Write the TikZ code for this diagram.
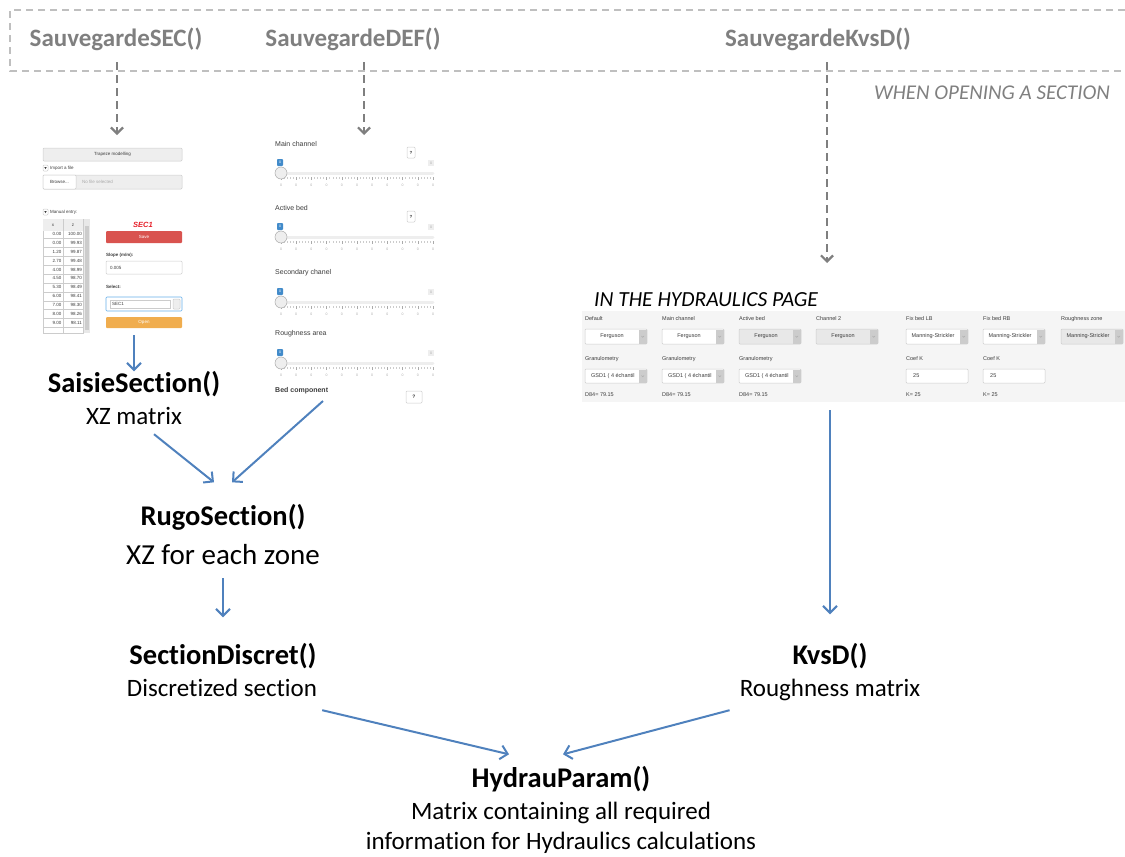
\documentclass[tikz,border=0pt]{standalone}
\usepackage{fontspec}
\setmainfont{Carlito}[Ligatures=NoCommon]
\newfontfamily\uifont{Liberation Sans}
\usetikzlibrary{arrows.meta}
\definecolor{flowblue}{RGB}{79,129,189}
\definecolor{savegray}{RGB}{127,127,127}
\definecolor{boxgray}{RGB}{191,191,191}
\definecolor{uitext}{RGB}{60,60,60}
\definecolor{uiline}{RGB}{204,204,204}
\definecolor{uifill}{RGB}{238,238,238}
\definecolor{savered}{RGB}{217,83,79}
\definecolor{openorange}{RGB}{240,173,78}
\definecolor{secred}{RGB}{230,30,40}
\definecolor{focusblue}{RGB}{102,175,233}
\definecolor{knobblue}{RGB}{66,139,202}
\definecolor{panelgray}{RGB}{245,245,245}
\definecolor{disgray}{RGB}{232,232,232}
\definecolor{tickgray}{RGB}{170,170,170}

\tikzset{
  fn/.style={font=\fontsize{28.5}{34}\selectfont\bfseries, text height=21pt, text depth=6pt, inner sep=0pt},
  fnsub/.style={font=\fontsize{25}{30}\selectfont, text height=17pt, text depth=5pt, inner sep=0pt},
  fnbig/.style={font=\fontsize{29}{34}\selectfont, text height=20pt, text depth=6pt, inner sep=0pt},
  savefn/.style={font=\fontsize{25}{30}\selectfont\bfseries, text=savegray, text height=18pt, text depth=5pt, inner sep=0pt},
  flow/.style={draw=flowblue, line width=2pt, -{Straight Barb[length=7pt,width=14pt]}},
  waitarrow/.style={draw=savegray, line width=2.2pt, dash pattern=on 8pt off 5pt, shorten <=10.5pt, -{Straight Barb[length=6pt,width=12pt]}},
  dashbox/.style={draw=boxgray, line width=1.8pt, dash pattern=on 7pt off 5pt},
  uitiny/.style={font=\uifont\fontsize{4.5}{5}\selectfont, text=uitext, inner sep=0pt},
  uitinyb/.style={uitiny, font=\uifont\fontsize{4.5}{5}\selectfont\bfseries},
  uismall/.style={font=\uifont\fontsize{7}{8}\selectfont, text=uitext, inner sep=0pt},
  uimini/.style={font=\uifont\fontsize{3.5}{4}\selectfont, text=tickgray, inner sep=0pt},
  uihyd/.style={font=\uifont\fontsize{5.5}{6}\selectfont, text=uitext, inner sep=0pt},
  uibox/.style={draw=uiline, line width=0.5pt, rounded corners=1pt}
}

\begin{document}
\begin{tikzpicture}[x=1pt,y=-1pt]
\useasboundingbox (0,0) rectangle (1125,857);

%saving functions
\draw[dashbox] (1125,10) -- (10,10) -- (10,71) -- (1125,71);
\node[savefn] (saveSEC) at (116,40) {SauvegardeSEC()};
\node[savefn] (saveDEF) at (353,40) {SauvegardeDEF()};
\node[savefn] (saveKvsD) at (818,40) {SauvegardeKvsD()};
\node[font=\fontsize{21}{25}\selectfont\itshape, text=savegray, inner sep=0pt] (when) at (992,93) {WHEN OPENING A SECTION};

%screens reached
\coordinate (secin) at (117,135);
\coordinate (defin) at (364,135);
\coordinate (hydin) at (827,263);
\draw[waitarrow] (secin |- saveSEC.south) -- (secin);
\draw[waitarrow] (defin |- saveDEF.south) -- (defin);
\draw[waitarrow] (hydin |- saveKvsD.south) -- (hydin);

%trapeze screen
\draw[uibox, fill=uifill] (43,148) rectangle (182,161);
\node[uitiny] (trap) at (112.5,154.5) {Trapeze modelling};
\draw[uibox, fill=white] (43,165) rectangle (48,171);
\fill[uitext] (44.3,167) -- (46.7,167) -- (45.5,169) -- cycle;
\node[uitiny, anchor=west] (import) at (50,168) {Import a file};
\draw[uibox, fill=uifill] (43,175) rectangle (182,189);
\draw[uibox, fill=white] (43,175) rectangle (76,189);
\node[uitiny] (browse) at (59.5,182) {Browse...};
\node[uitiny, text=tickgray, anchor=west] (nofile) at (82,182) {No file selected};
\draw[uibox, fill=white] (43,209) rectangle (48,215);
\fill[uitext] (44.3,211) -- (46.7,211) -- (45.5,213) -- cycle;
\node[uitiny, anchor=west] (manual) at (50,212) {Manual entry:};

%table
\draw[uiline, fill=white] (43,219) rectangle (83,333);
\fill[uifill] (43,219.3) rectangle (83,231);
\draw[uiline] (63,219) -- (63,333);
\fill[disgray] (84,219) rectangle (90,333);
\fill[uiline] (85,226) rectangle (89,330);
\node[uitiny] (hx) at (53,225) {x};
\node[uitiny] (hz) at (73,225) {z};
\foreach \xv/\zv [count=\i] in {0.00/100.00, 0.00/99.93, 1.20/99.87, 2.70/99.48, 4.00/98.99, 4.50/98.70, 5.30/98.49, 6.00/98.41, 7.00/98.30, 8.00/98.26, 9.00/98.11}{
  \draw[uiline, line width=0.3pt] (43,229.5+8.9*\i) -- (83,229.5+8.9*\i);
  \node[uitiny, anchor=east] (xv\i) at (61.5,225+8.9*\i) {\xv};
  \node[uitiny, anchor=east] (zv\i) at (82,225+8.9*\i) {\zv};
}

%section form
\node[font=\uifont\fontsize{7.5}{8}\selectfont\bfseries\itshape, text=secred, inner sep=0pt] (secname) at (143,225) {SEC1};
\fill[savered, rounded corners=1pt] (106,231) rectangle (182,243);
\node[uitiny, text=white] (savebtn) at (144,237) {Save};
\node[uitinyb, anchor=west] (slope) at (106,255) {Slope (m/m):};
\draw[uibox, fill=white] (106,261) rectangle (182,274);
\node[uitiny, anchor=west] (slopeval) at (110,267.5) {0.005};
\node[uitinyb, anchor=west] (selectlbl) at (106,287) {Select:};
\draw[draw=focusblue, line width=0.6pt, fill=white, rounded corners=1pt] (106,297) rectangle (182,311);
\draw[uiline, line width=0.4pt] (110,300) rectangle (170,308);
\node[uitiny, anchor=west] (selval) at (112,304) {SEC1};
\draw[uibox, fill=uifill] (173,299) rectangle (180,309);
\fill[openorange, rounded corners=1pt] (106,317) rectangle (182,328);
\node[uitiny, text=white] (openbtn) at (144,322.5) {Open};

%definition screen
\foreach \lab/\yy/\q [count=\k] in {Main channel/144/1, Active bed/208/1, Secondary chanel/273/0, Roughness area/334/0}{
  \node[uismall, anchor=west] (slab\k) at (275,\yy) {\lab};
  \ifnum\q=1
    \draw[uibox, fill=white] (407,\yy+3) rectangle (415,\yy+14);
    \node[uimini, text=uitext, font=\uifont\fontsize{4.5}{5}\selectfont\bfseries] (q\k) at (411,\yy+8.5) {?};
  \fi
  \fill[knobblue, rounded corners=0.8pt] (277,\yy+15) rectangle (283,\yy+22);
  \node[uimini, text=white] (smin\k) at (280,\yy+18.5) {0};
  \fill[uifill] (428,\yy+16) rectangle (434,\yy+22);
  \node[uimini] (smax\k) at (431,\yy+19) {0};
  \draw[uifill, line width=3pt, line cap=round] (281,\yy+29) -- (433,\yy+29);
  \foreach \t in {0,...,50}
    \draw[uiline, line width=0.3pt] (281+3.04*\t,\yy+33) -- ++(0,1.5);
  \foreach \t in {0,...,10}{
    \draw[tickgray, line width=0.4pt] (281+15.2*\t,\yy+33) -- ++(0,3);
    \node[uimini] (tk\k\t) at (281+15.2*\t,\yy+41) {0};
  }
  \draw[draw=tickgray, fill=uifill, line width=0.5pt] (281,\yy+29) circle (6);
}
\node[uismall, font=\uifont\fontsize{7}{8}\selectfont\bfseries, anchor=west] (bedlbl) at (275,391) {Bed component};
\draw[uibox, fill=white] (406,391) rectangle (422,403);
\node[uimini, text=uitext, font=\uifont\fontsize{5}{6}\selectfont\bfseries] (bedq) at (414,397) {?};

%hydraulics page
\node[font=\fontsize{21.5}{25}\selectfont\itshape, inner sep=0pt, anchor=west] (hydtitle) at (594,300) {IN THE HYDRAULICS PAGE};
\fill[panelgray] (582,311) rectangle (1125,402);
\foreach \cx/\lab/\sel/\st [count=\c] in {585/Default/Ferguson/white, 662/Main channel/Ferguson/white, 739/Active bed/Ferguson/disgray, 816/Channel 2/Ferguson/disgray, 906/Fix bed LB/Manning-Strickler/white, 983/Fix bed RB/Manning-Strickler/white, 1061/Roughness zone/Manning-Strickler/disgray}{
  \node[uihyd, anchor=west] (hl\c) at (\cx,319) {\lab};
  \draw[uibox, fill=\st] (\cx,329) rectangle (\cx+62,344);
  \fill[uiline] (\cx+54,330) rectangle (\cx+61.5,343.5);
  \draw[tickgray, line width=0.4pt] (\cx+56.5,336) -- (\cx+57.75,337.3) -- (\cx+59,336);
  \node[uihyd] (hs\c) at (\cx+27,336.5) {\sel};
}
\foreach \cx [count=\c] in {585,662,739}{
  \node[uihyd, anchor=west] (gl\c) at (\cx,359) {Granulometry};
  \draw[uibox, fill=white] (\cx,369) rectangle (\cx+62,383);
  \fill[uiline] (\cx+54,369.5) rectangle (\cx+61.5,382.5);
  \draw[tickgray, line width=0.4pt] (\cx+56.5,375.5) -- (\cx+57.75,376.8) -- (\cx+59,375.5);
  \node[uihyd, anchor=west] (gs\c) at (\cx+6,376) {GSD1 ( 4 échantil};
  \node[uihyd, anchor=west] (gd\c) at (\cx,395) {D84= 79.15};
}
\foreach \cx [count=\c] in {906,983}{
  \node[uihyd, anchor=west] (kl\c) at (\cx,359) {Coef K};
  \draw[uibox, fill=white] (\cx,369) rectangle (\cx+62,383);
  \node[uihyd, anchor=west] (kv\c) at (\cx+7,376) {25};
  \node[uihyd, anchor=west] (kk\c) at (\cx,395) {K= 25};
}

%functions
\node[fn] (saisie) at (134,385) {SaisieSection()};
\node[fnsub] (saisiexz) at (134,418) {XZ matrix};
\node[fn] (rugo) at (223,518) {RugoSection()};
\node[fnbig] (rugoxz) at (223,557) {XZ for each zone};
\node[fn] (discret) at (223,657) {SectionDiscret()};
\node[fnsub] (discretxz) at (222,690) {Discretized section};
\node[fn] (kvsd) at (830,657) {KvsD()};
\node[fnsub] (kvsdxz) at (830,690) {Roughness matrix};
\node[fn] (hydrau) at (561,780) {HydrauParam()};
\node[fnsub] (hydraua) at (561,813) {Matrix containing all required};
\node[fnsub] (hydraub) at (561,843) {information for Hydraulics calculations};

%flows
\coordinate (secout) at (134,335);
\coordinate (defout) at (323,401);
\coordinate (hydout) at (830,410);
\draw[flow] (secout) -- (saisie.north);
\draw[flow] ([xshift=20pt,yshift=-5pt]saisiexz.south) -- ([xshift=-9pt,yshift=22pt]rugo.north);
\draw[flow] (defout) -- ([xshift=9pt,yshift=22pt]rugo.north);
\draw[flow] ([yshift=-8pt]rugoxz.south) -- ([yshift=26pt]discret.north);
\draw[flow] (hydout) -- ([yshift=29pt]kvsd.north);
\draw[flow] ([xshift=5pt,yshift=-9pt]discretxz.south east) -- ([xshift=-52pt,yshift=12pt]hydrau.north);
\draw[flow] ([xshift=-10pt,yshift=-9pt]kvsdxz.south west) -- ([xshift=2pt,yshift=12pt]hydrau.north);
\end{tikzpicture}
\end{document}
